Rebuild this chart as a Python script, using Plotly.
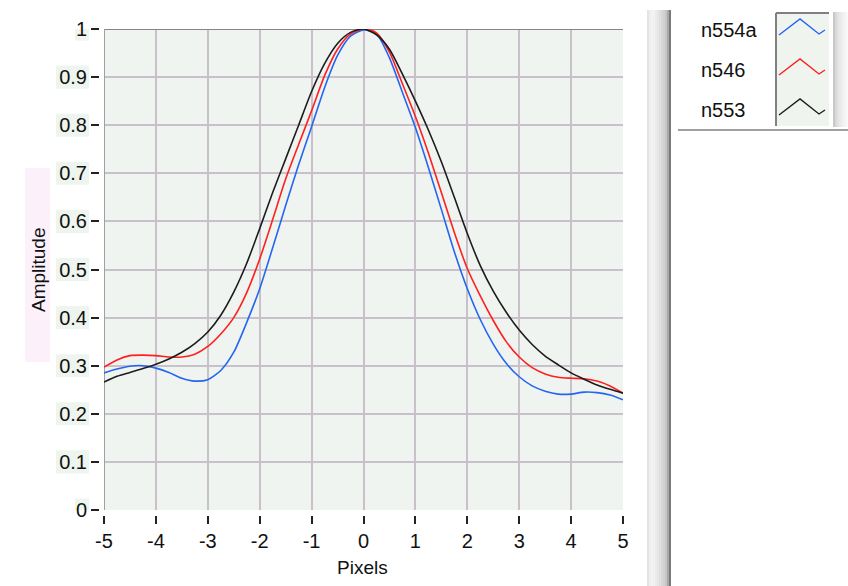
import plotly.graph_objects as go

# ---------------- data ----------------
x_pixels = [-5.0, -4.75, -4.5, -4.25, -4.0, -3.75, -3.5, -3.25, -3.0, -2.75,
            -2.5, -2.25, -2.0, -1.75, -1.5, -1.25, -1.0, -0.75, -0.5, -0.25,
            0.0, 0.25, 0.5, 0.75, 1.0, 1.25, 1.5, 1.75, 2.0, 2.25,
            2.5, 2.75, 3.0, 3.25, 3.5, 3.75, 4.0, 4.25, 4.5, 4.75, 5.0]

n554a = [0.285, 0.293, 0.299, 0.300, 0.295, 0.286, 0.274, 0.268, 0.271, 0.290,
         0.328, 0.390, 0.460, 0.545, 0.633, 0.718, 0.797, 0.878, 0.945, 0.985,
         0.998, 0.990, 0.940, 0.868, 0.795, 0.712, 0.625, 0.537, 0.460, 0.396,
         0.345, 0.305, 0.277, 0.258, 0.247, 0.241, 0.241, 0.245, 0.244, 0.239, 0.229]

n546 = [0.297, 0.312, 0.321, 0.322, 0.321, 0.318, 0.318, 0.324, 0.340, 0.366,
        0.400, 0.452, 0.522, 0.604, 0.688, 0.760, 0.830, 0.903, 0.958, 0.990,
        1.000, 0.992, 0.952, 0.886, 0.818, 0.742, 0.660, 0.577, 0.502, 0.445,
        0.394, 0.350, 0.318, 0.296, 0.283, 0.276, 0.274, 0.273, 0.268, 0.258, 0.243]

n553 = [0.266, 0.278, 0.286, 0.294, 0.303, 0.314, 0.328, 0.346, 0.370, 0.405,
        0.453, 0.513, 0.585, 0.660, 0.730, 0.800, 0.870, 0.928, 0.970, 0.993,
        1.000, 0.988, 0.958, 0.906, 0.850, 0.790, 0.724, 0.650, 0.575, 0.508,
        0.455, 0.411, 0.374, 0.344, 0.320, 0.302, 0.285, 0.272, 0.260, 0.251, 0.243]

series_names = ["n554a", "n546", "n553"]
series_colors = ["#2466f2", "#ff1f1f", "#1c1c1c"]

x_tick_vals = [-5, -4, -3, -2, -1, 0, 1, 2, 3, 4, 5]
x_tick_text = ["-5", "-4", "-3", "-2", "-1", "0", "1", "2", "3", "4", "5"]
y_tick_vals = [0, 0.1, 0.2, 0.3, 0.4, 0.5, 0.6, 0.7, 0.8, 0.9, 1]
y_tick_text = ["0", "0.1", "0.2", "0.3", "0.4", "0.5", "0.6", "0.7", "0.8", "0.9", "1"]

# ---------------- layout geometry ----------------
W_FIG, H_FIG = 848, 586
ML, MR, MT, MB = 99, 225, 29, 71
PW = W_FIG - ML - MR
PH = H_FIG - MT - MB


def px(xp):
    return (xp - ML) / PW


def py(yp):
    return (H_FIG - MB - yp) / PH


FONT = "Liberation Sans, Arial, sans-serif"

fig = go.Figure()
for name, vals, col in zip(series_names, [n554a, n546, n553], series_colors):
    fig.add_trace(go.Scatter(x=x_pixels, y=vals, mode="lines", name=name,
                             line=dict(color=col, width=1.6, shape="spline", smoothing=0.7),
                             showlegend=False, hoverinfo="skip"))

shapes = []
# pink box behind y title
shapes.append(dict(type="rect", xref="paper", yref="paper", x0=px(25), x1=px(50),
                   y0=py(362), y1=py(168), fillcolor="#fcf1fb", line=dict(width=0), layer="below"))
# y tick label backgrounds
for v, t in zip(y_tick_vals, y_tick_text):
    wpx = 12 if len(t) == 1 else 31
    shapes.append(dict(type="rect", xref="paper", yref="y", x0=px(88 - wpx - 1), x1=px(89),
                       y0=v - 0.024, y1=v + 0.024, fillcolor="#eef4ee",
                       line=dict(width=0), layer="below"))
# frame lines top / left
shapes.append(dict(type="line", xref="x", yref="y", x0=-5, x1=5, y0=1, y1=1,
                   line=dict(color="#858585", width=2), layer="between"))
shapes.append(dict(type="line", xref="x", yref="y", x0=-5, x1=-5, y0=0, y1=1,
                   line=dict(color="#a0a0a0", width=2), layer="between"))

# separator bar (gradient)
bar_cols = ["#e4e4e4", "#eeeeee", "#f3f3f3", "#f1f1f1", "#ececec", "#e6e6e6", "#dfdfdf",
            "#d8d8d8", "#d0d0d0", "#c6c6c6", "#a8a8a8", "#7a7a7a"]
for i, c in enumerate(bar_cols):
    shapes.append(dict(type="rect", xref="paper", yref="paper", x0=px(647 + 2 * i), x1=px(649 + 2 * i),
                       y0=py(586), y1=py(10), fillcolor=c, line=dict(width=0), layer="above"))
# right edge bar
right_cols = ["#c8c8c8", "#d8d8d8", "#e2e2e2", "#e8e8e8", "#eeeeee", "#f2f2f2", "#f6f6f6", "#fafafa"]
for i, c in enumerate(right_cols):
    shapes.append(dict(type="rect", xref="paper", yref="paper", x0=px(833 + 2 * i), x1=px(835 + 2 * i),
                       y0=py(127), y1=py(12), fillcolor=c, line=dict(width=0), layer="above"))
# legend bottom line
shapes.append(dict(type="line", xref="paper", yref="paper", x0=px(678), x1=px(848),
                   y0=py(130), y1=py(130), line=dict(color="#a0a0a0", width=2), layer="above"))
# legend sample box
shapes.append(dict(type="rect", xref="paper", yref="paper", x0=px(776), x1=px(829),
                   y0=py(126), y1=py(13), fillcolor="#eff4ef", line=dict(width=0), layer="above"))
shapes.append(dict(type="line", xref="paper", yref="paper", x0=px(776), x1=px(829),
                   y0=py(13), y1=py(13), line=dict(color="#808080", width=2), layer="above"))
shapes.append(dict(type="line", xref="paper", yref="paper", x0=px(776), x1=px(776),
                   y0=py(126), y1=py(13), line=dict(color="#808080", width=2), layer="above"))
# legend zigzag glyphs
for k, col in enumerate(series_colors):
    off = 40 * k
    pts = [(779, 35 + off), (800, 19 + off), (819, 34 + off), (825, 30 + off)]
    path = "M " + " L ".join(f"{px(a):.5f},{py(b):.5f}" for a, b in pts)
    shapes.append(dict(type="path", xref="paper", yref="paper", path=path,
                       line=dict(color=col, width=1.4), layer="above"))

annotations = []
for k, name in enumerate(series_names):
    annotations.append(dict(text=name, xref="paper", yref="paper", x=px(699), y=py(30 + 40 * k),
                            xanchor="left", yanchor="middle", showarrow=False,
                            font=dict(family=FONT, size=20, color="#111111")))
annotations.append(dict(text="Amplitude", xref="paper", yref="paper", x=px(38), y=py(270),
                        textangle=-90, showarrow=False, xanchor="center", yanchor="middle",
                        font=dict(family=FONT, size=19, color="#111111")))
annotations.append(dict(text="Pixels", xref="paper", yref="paper", x=px(362), y=py(567),
                        showarrow=False, xanchor="center", yanchor="middle",
                        font=dict(family=FONT, size=19, color="#111111")))

fig.update_layout(
    width=W_FIG, height=H_FIG,
    margin=dict(l=ML, r=MR, t=MT, b=MB, pad=0),
    paper_bgcolor="white", plot_bgcolor="#f0f4f0",
    font=dict(family=FONT, size=20, color="#111111"),
    shapes=shapes, annotations=annotations, showlegend=False,
    xaxis=dict(range=[-5, 5], domain=[px(104), 1], anchor="free", position=0,
               tickvals=x_tick_vals, ticktext=x_tick_text,
               ticks="outside", ticklen=8, tickwidth=1.5, tickcolor="#222222",
               showgrid=True, gridcolor="#c9c1c9", gridwidth=2, zeroline=False,
               showline=False, tickfont=dict(family=FONT, size=20, color="#111111")),
    yaxis=dict(range=[0, 1], domain=[py(510), 1], anchor="free", position=0,
               tickvals=y_tick_vals, ticktext=y_tick_text,
               ticks="outside", ticklen=8, tickwidth=1.5, tickcolor="#222222",
               showgrid=True, gridcolor="#c9c1c9", gridwidth=2, zeroline=False,
               showline=False, tickfont=dict(family=FONT, size=20, color="#111111")),
)

fig.write_html("out.html", config={"displayModeBar": False},
               post_script="document.body.style.margin='0';document.body.style.overflow='hidden';")
